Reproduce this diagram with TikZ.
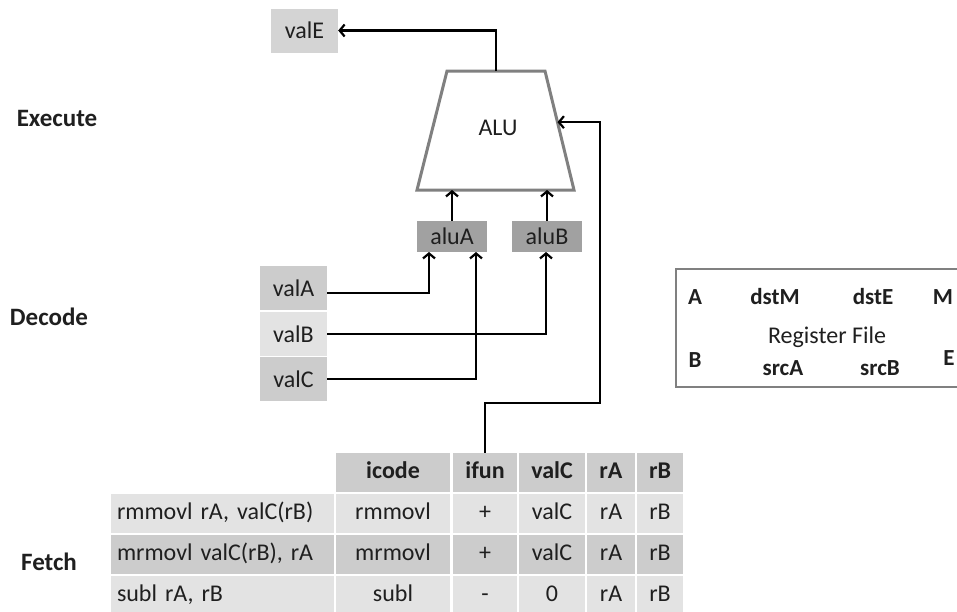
\documentclass[tikz,border=0pt]{standalone}
\usepackage{fontspec}
\setmainfont{Carlito}
\usetikzlibrary{arrows.meta,calc}

\definecolor{cellGray}{gray}{0.80}
\definecolor{paleGray}{gray}{0.89}
\definecolor{aluGray}{gray}{0.63}
\definecolor{outGray}{gray}{0.83}
\definecolor{edgeGray}{gray}{0.50}
\definecolor{inkGray}{gray}{0.12}

\tikzset{
	wire/.style={line width=2.2pt, -{Straight Barb[length=5pt,width=12pt]}},
	valbox/.style={fill=#1, minimum width=67pt, minimum height=44pt, inner sep=0pt},
	alubox/.style={fill=aluGray, minimum width=70pt, minimum height=31pt, inner sep=0pt},
	stage/.style={font=\fontsize{25}{29}\selectfont\bfseries},
	regtag/.style={font=\fontsize{23}{27}\selectfont\bfseries},
	cell/.style={fill=#1, minimum height=39pt, inner sep=0pt, text height=16pt, text depth=5pt},
	instcell/.style={cell=#1, text width=211pt, inner xsep=6pt, align=left}
}

\begin{document}
\begin{tikzpicture}[x=1pt, y=-1pt, font=\fontsize{24}{28}\selectfont, text=inkGray]
	\useasboundingbox (0,0) rectangle (957,611);

	% stages
	\node[stage] (exec) at (57,118) {Execute};
	\node[stage] (dec) at (49,317) {Decode};
	\node[stage] (fet) at (49,562) {Fetch};

	% execute
	\coordinate (aluTL) at (447,71);
	\coordinate (aluTR) at (545,71);
	\coordinate (aluBR) at (574,190);
	\coordinate (aluBL) at (417,190);
	\draw[draw=edgeGray, line width=3pt, fill=white, line join=miter] (aluTL) -- (aluTR) -- (aluBR) -- (aluBL) -- cycle;
	\node (alu) at (498,128) {ALU};
	\node[valbox=outGray] (valE) at (304.5,30.5) {valE};
	\node[alubox] (aluA) at (452,236.5) {aluA};
	\node[alubox] (aluB) at (547,236.5) {aluB};

	% decode
	\node[valbox=cellGray] (valA) at (293.5,288) {valA};
	\node[valbox=paleGray] (valB) at (293.5,334) {valB};
	\node[valbox=cellGray] (valC) at (293.5,379) {valC};

	\node[draw=edgeGray, line width=2.5pt, minimum width=300pt, minimum height=118pt] (rf) at (826,328) {};
	\node (rfname) at (827,337) {Register File};
	\node[regtag] (rfA) at (695,297) {A};
	\node[regtag] (rfB) at (695,360) {B};
	\node[regtag] (dstM) at (775,297) {dstM};
	\node[regtag] (dstE) at (873,297) {dstE};
	\node[regtag] (srcA) at (783,368) {srcA};
	\node[regtag] (srcB) at (880,368) {srcB};
	\node[regtag] (rfM) at (943,297) {M};
	\node[regtag] (rfE) at (949,358) {E};

	% fetch
	\node[cell=cellGray, minimum width=114pt] (icodeH) at (393,472.5) {\bfseries icode};
	\node[cell=cellGray, minimum width=64pt] (ifunH) at (485,472.5) {\bfseries ifun};
	\node[cell=cellGray, minimum width=66pt] (valCH) at (552,472.5) {\bfseries valC};
	\node[cell=cellGray, minimum width=48pt] (rAH) at (611,472.5) {\bfseries rA};
	\node[cell=cellGray, minimum width=46pt] (rBH) at (660,472.5) {\bfseries rB};

	\node[instcell=paleGray] (inst1) at (222.5,513.5) {rmmovl rA, valC(rB)};
	\node[cell=paleGray, minimum width=114pt] (icode1) at (393,513.5) {rmmovl};
	\node[cell=paleGray, minimum width=64pt] (ifun1) at (485,513.5) {+};
	\node[cell=paleGray, minimum width=66pt] (valC1) at (552,513.5) {valC};
	\node[cell=paleGray, minimum width=48pt] (rA1) at (611,513.5) {rA};
	\node[cell=paleGray, minimum width=46pt] (rB1) at (660,513.5) {rB};

	\node[instcell=cellGray] (inst2) at (222.5,554.5) {mrmovl valC(rB), rA};
	\node[cell=cellGray, minimum width=114pt] (icode2) at (393,554.5) {mrmovl};
	\node[cell=cellGray, minimum width=64pt] (ifun2) at (485,554.5) {+};
	\node[cell=cellGray, minimum width=66pt] (valC2) at (552,554.5) {valC};
	\node[cell=cellGray, minimum width=48pt] (rA2) at (611,554.5) {rA};
	\node[cell=cellGray, minimum width=46pt] (rB2) at (660,554.5) {rB};

	\node[instcell=paleGray] (inst3) at (222.5,595.5) {subl rA, rB};
	\node[cell=paleGray, minimum width=114pt] (icode3) at (393,595.5) {subl};
	\node[cell=paleGray, minimum width=64pt] (ifun3) at (485,595.5) {-};
	\node[cell=paleGray, minimum width=66pt] (valC3) at (552,595.5) {0};
	\node[cell=paleGray, minimum width=48pt] (rA3) at (611,595.5) {rA};
	\node[cell=paleGray, minimum width=46pt] (rB3) at (660,595.5) {rB};

	% wires
	\coordinate (aluOut) at (496,71);
	\coordinate (aluIn) at ($(aluTR)!0.43!(aluBR)$);
	\coordinate (ifunTurn) at (600,403);
	\coordinate (aluAleft) at (429,252);
	\coordinate (aluAright) at (476,252);
	\coordinate (aluBin) at (546,252);

	\draw[wire] (aluOut) |- (valE.east);
	\draw[wire] (aluA.north) -- (aluA.north |- aluBL);
	\draw[wire] (aluB.north) -- (aluB.north |- aluBL);
	\draw[wire] ([yshift=-5pt]valA.east) -| (aluAleft);
	\draw[wire] (valB.east) -| (aluBin);
	\draw[wire] (valC.east) -| (aluAright);
	\draw[wire] (ifunH.north) |- (ifunTurn) |- (aluIn);
\end{tikzpicture}
\end{document}
